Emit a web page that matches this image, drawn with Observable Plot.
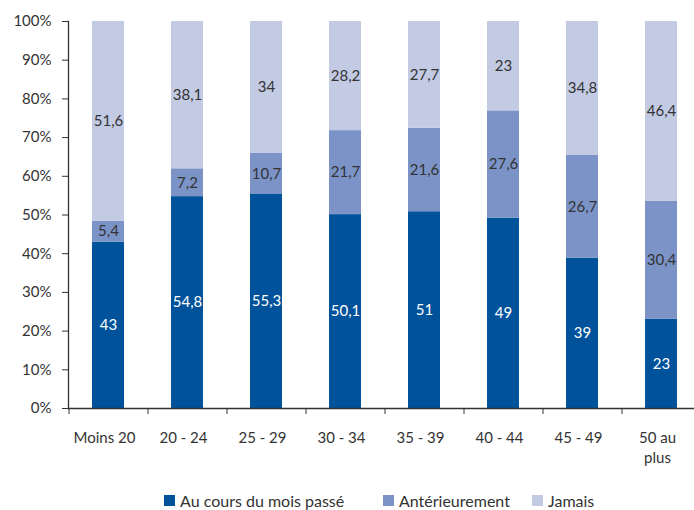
<!DOCTYPE html>
<html><head><meta charset="utf-8">
<script src="https://cdn.jsdelivr.net/npm/d3@7"></script>
<script src="https://cdn.jsdelivr.net/npm/@observablehq/plot@0.6"></script>
<style>
html,body{margin:0;padding:0;background:#fff;}
body{font-family:Lato,"Open Sans",sans-serif;color:#333;width:694px;height:510px;overflow:hidden;}
#legend{position:absolute;top:491px;left:0;width:694px;height:18px;font-size:16px;color:#333;}
#legend .item{position:absolute;top:0;display:flex;align-items:center;white-space:nowrap;}
#legend .sw{width:11px;height:11px;margin-right:5px;}
</style></head><body>
<div id="chart"></div>
<div id="legend"></div>
<script>
const categories = ["Moins 20", "20 - 24", "25 - 29", "30 - 34", "35 - 39", "40 - 44", "45 - 49", "50 au plus"];
const tickLabels = ["Moins 20", "20 - 24", "25 - 29", "30 - 34", "35 - 39", "40 - 44", "45 - 49", "50 au\nplus"];
const seriesNames = ["Au cours du mois passé", "Antérieurement", "Jamais"];
const moisPasse = [43, 54.8, 55.3, 50.1, 51, 49, 39, 23];
const anterieurement = [5.4, 7.2, 10.7, 21.7, 21.6, 27.6, 26.7, 30.4];
const jamais = [51.6, 38.1, 34, 28.2, 27.7, 23, 34.8, 46.4];
const yTicks = [0, 0.1, 0.2, 0.3, 0.4, 0.5, 0.6, 0.7, 0.8, 0.9, 1];
const colors = ["#00529b", "#7b93c7", "#c3cae4"];

const seriesValues = [moisPasse, anterieurement, jamais];
const data = [];
seriesNames.forEach((s, si) => categories.forEach((c, ci) => data.push({category: c, series: s, value: seriesValues[si][ci]})));

const fmt = v => String(v).replace(".", ",");
const stackOpts = {x: "category", y: "value", z: "series", order: seriesNames, offset: "normalize"};
const textColor = "#333";

const plot = Plot.plot({
  width: 694,
  height: 480,
  marginLeft: 68,
  marginRight: 0,
  marginTop: 21,
  marginBottom: 72,
  style: {fontFamily: "Lato, 'Open Sans', sans-serif", fontSize: "15px", color: textColor, background: "#fff"},
  x: {domain: categories, range: [68, 700], paddingInner: 0.6, paddingOuter: 0.3, axis: null, label: null},
  y: {domain: [0, 1], axis: null, label: null},
  color: {domain: seriesNames, range: colors},
  marks: [
    Plot.barY(data, Plot.stackY({...stackOpts, fill: "series"})),
    Plot.text(data, Plot.filter(d => d.series === seriesNames[0], Plot.stackY({...stackOpts, text: d => fmt(d.value), fill: "white", fontSize: 15}))),
    Plot.text(data, Plot.filter(d => d.series !== seriesNames[0], Plot.stackY({...stackOpts, text: d => fmt(d.value), fill: textColor, fontSize: 15}))),
    Plot.axisY({ticks: yTicks, tickFormat: d3.format(".0%"), tickSize: 6, tickPadding: 11, fontSize: 15, stroke: "#333", fill: textColor, label: null}),
    Plot.axisX({ticks: categories, tickSize: 6, tickFormat: () => "", dx: -39.5, stroke: "#333", label: null}),
    Plot.axisX({ticks: categories, tickSize: 0, tickPadding: 21, dx: -4, tickFormat: (d) => tickLabels[categories.indexOf(d)], lineHeight: 1.3, fontSize: 15, fill: textColor, label: null}),
    Plot.ruleY([0], {stroke: "#333", strokeWidth: 1.3}),
    Plot.frame({anchor: "left", stroke: "#333", strokeWidth: 1.3})
  ]
});
document.getElementById("chart").appendChild(plot);

const color = plot.scale("color");
const legendX = [164, 383, 532];
const legend = document.getElementById("legend");
seriesNames.forEach((s, i) => {
  const item = document.createElement("div");
  item.className = "item";
  item.style.left = legendX[i] + "px";
  const sw = document.createElement("span");
  sw.className = "sw";
  sw.style.background = color.apply(s);
  const t = document.createElement("span");
  t.textContent = s;
  item.appendChild(sw);
  item.appendChild(t);
  legend.appendChild(item);
});
</script>
</body></html>
